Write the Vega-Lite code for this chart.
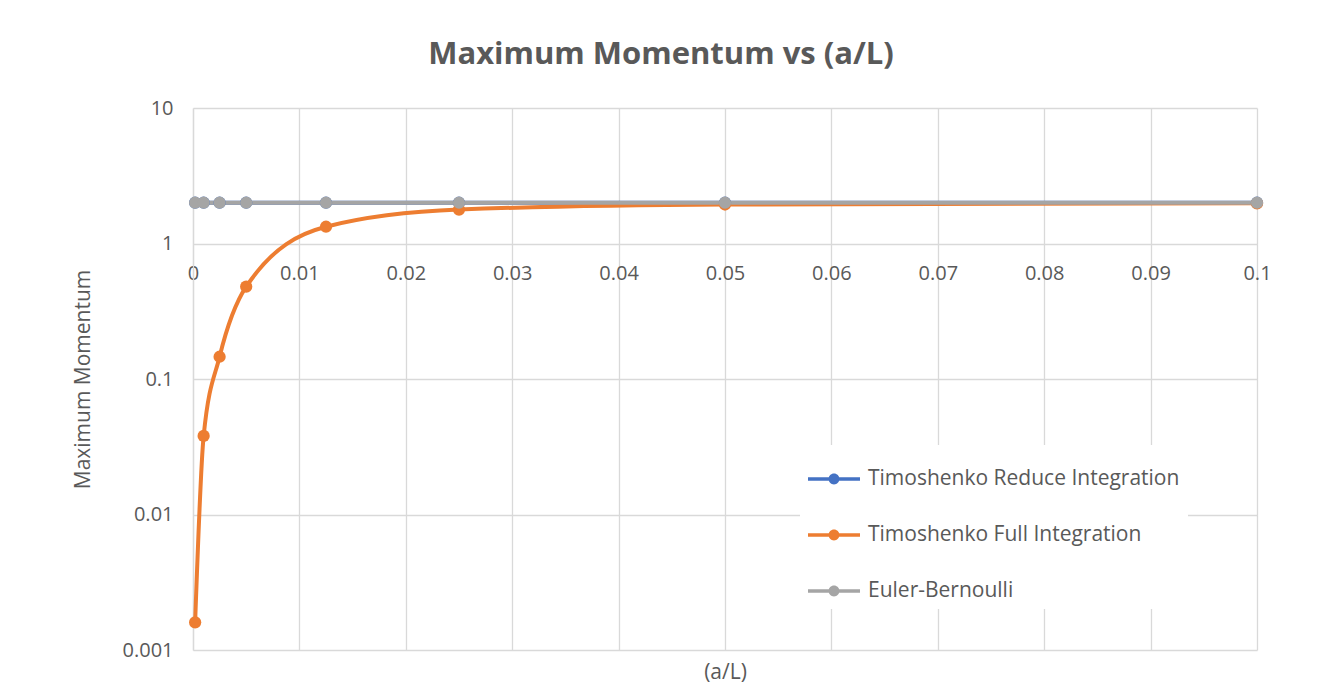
{
  "$schema": "https://vega.github.io/schema/vega-lite/v6.json",
  "autosize": "none",
  "width": 1064,
  "height": 542,
  "padding": {"left": 193, "top": 108, "right": 65, "bottom": 43},
  "background": "white",
  "config": {
    "view": {"stroke": null},
    "font": "Open Sans"
  },
  "title": {
    "text": "Maximum Momentum vs (a/L)",
    "fontSize": 31,
    "fontWeight": "bold",
    "color": "#595959",
    "font": "Open Sans",
    "anchor": "middle",
    "dx": -64,
    "offset": 27
  },
  "data": {
    "values": [
      {"aL": 0.0002, "M": 2.0, "series": "Timoshenko Reduce Integration"},
      {"aL": 0.001, "M": 2.0, "series": "Timoshenko Reduce Integration"},
      {"aL": 0.0025, "M": 2.0, "series": "Timoshenko Reduce Integration"},
      {"aL": 0.005, "M": 2.0, "series": "Timoshenko Reduce Integration"},
      {"aL": 0.0125, "M": 2.0, "series": "Timoshenko Reduce Integration"},
      {"aL": 0.025, "M": 2.0, "series": "Timoshenko Reduce Integration"},
      {"aL": 0.05, "M": 2.0, "series": "Timoshenko Reduce Integration"},
      {"aL": 0.1, "M": 2.0, "series": "Timoshenko Reduce Integration"},
      {"aL": 0.0002, "M": 0.0016, "series": "Timoshenko Full Integration"},
      {"aL": 0.001, "M": 0.038, "series": "Timoshenko Full Integration"},
      {"aL": 0.0025, "M": 0.146, "series": "Timoshenko Full Integration"},
      {"aL": 0.005, "M": 0.48, "series": "Timoshenko Full Integration"},
      {"aL": 0.0125, "M": 1.33, "series": "Timoshenko Full Integration"},
      {"aL": 0.025, "M": 1.78, "series": "Timoshenko Full Integration"},
      {"aL": 0.05, "M": 1.94, "series": "Timoshenko Full Integration"},
      {"aL": 0.1, "M": 1.98, "series": "Timoshenko Full Integration"},
      {"aL": 0.0002, "M": 2.0, "series": "Euler-Bernoulli"},
      {"aL": 0.001, "M": 2.0, "series": "Euler-Bernoulli"},
      {"aL": 0.0025, "M": 2.0, "series": "Euler-Bernoulli"},
      {"aL": 0.005, "M": 2.0, "series": "Euler-Bernoulli"},
      {"aL": 0.0125, "M": 2.0, "series": "Euler-Bernoulli"},
      {"aL": 0.025, "M": 2.0, "series": "Euler-Bernoulli"},
      {"aL": 0.05, "M": 2.0, "series": "Euler-Bernoulli"},
      {"aL": 0.1, "M": 2.0, "series": "Euler-Bernoulli"}
    ]
  },
  "resolve": {"axis": {"x": "independent"}},
  "layer": [
    {
      "mark": {"type": "line", "interpolate": "monotone", "strokeWidth": 4},
      "encoding": {
        "x": {
          "field": "aL", "type": "quantitative",
          "scale": {"domain": [0, 0.1], "nice": false, "zero": false},
          "axis": {
            "orient": "bottom",
            "offset": -406,
            "grid": false,
            "domain": false,
            "ticks": false,
            "values": [0, 0.01, 0.02, 0.03, 0.04, 0.05, 0.06, 0.07, 0.08, 0.09, 0.1],
            "format": "~g",
            "labelFont": "Open Sans",
            "labelFontSize": 20,
            "labelColor": "#595959",
            "labelPadding": 19,
            "labelFlush": false,
            "title": "(a/L)",
            "titleFont": "Open Sans",
            "titleFontSize": 21,
            "titleFontWeight": "normal",
            "titleColor": "#595959",
            "titleY": 417
          }
        },
        "y": {
          "field": "M", "type": "quantitative",
          "scale": {"type": "log", "domain": [0.001, 10], "nice": false},
          "axis": {
            "values": [0.001, 0.01, 0.1, 1, 10],
            "format": "~g",
            "grid": true,
            "gridColor": "#D9D9D9",
            "gridWidth": 1.3,
            "domain": true,
            "domainColor": "#D9D9D9",
            "domainWidth": 1.3,
            "ticks": false,
            "labelFont": "Open Sans",
            "labelFontSize": 20,
            "labelColor": "#595959",
            "labelPadding": 20,
            "title": "Maximum Momentum",
            "titleFont": "Open Sans",
            "titleFontSize": 21,
            "titleFontWeight": "normal",
            "titleColor": "#595959",
            "titleX": -110,
            "titleBaseline": "middle"
          }
        },
        "color": {
          "field": "series", "type": "nominal",
          "scale": {
            "domain": ["Timoshenko Reduce Integration", "Timoshenko Full Integration", "Euler-Bernoulli"],
            "range": ["#4472C4", "#ED7D31", "#A5A5A5"]
          },
          "legend": {
            "title": null,
            "orient": "none",
            "legendX": 607,
            "legendY": 337,
            "fillColor": "white",
            "padding": 8,
            "symbolType": "M-1,-0.07 H1 V0.07 H-1 Z M0.21,0 A0.21,0.21 0 1 1 -0.21,0 A0.21,0.21 0 1 1 0.21,0 Z",
            "symbolSize": 2704,
            "symbolStrokeWidth": 0,
            "rowPadding": 20,
            "labelOffset": 8,
            "labelFont": "Open Sans",
            "labelFontSize": 21,
            "labelColor": "#595959",
            "labelLimit": 500,
            "encode": {
              "symbols": {
                "update": {
                  "fill": {"scale": "color", "field": "value"},
                  "fillOpacity": {"value": 1},
                  "stroke": {"value": "transparent"}
                }
              }
            }
          }
        }
      }
    },
    {
      "mark": {"type": "circle", "size": 150, "opacity": 1},
      "encoding": {
        "x": {
          "field": "aL", "type": "quantitative",
          "axis": {
            "orient": "top",
            "grid": true,
            "gridColor": "#D9D9D9",
            "gridWidth": 1.3,
            "values": [0, 0.01, 0.02, 0.03, 0.04, 0.05, 0.06, 0.07, 0.08, 0.09, 0.1],
            "labels": false,
            "domain": false,
            "ticks": false,
            "title": null
          }
        },
        "y": {"field": "M", "type": "quantitative"},
        "color": {"field": "series", "type": "nominal"}
      }
    }
  ]
}
